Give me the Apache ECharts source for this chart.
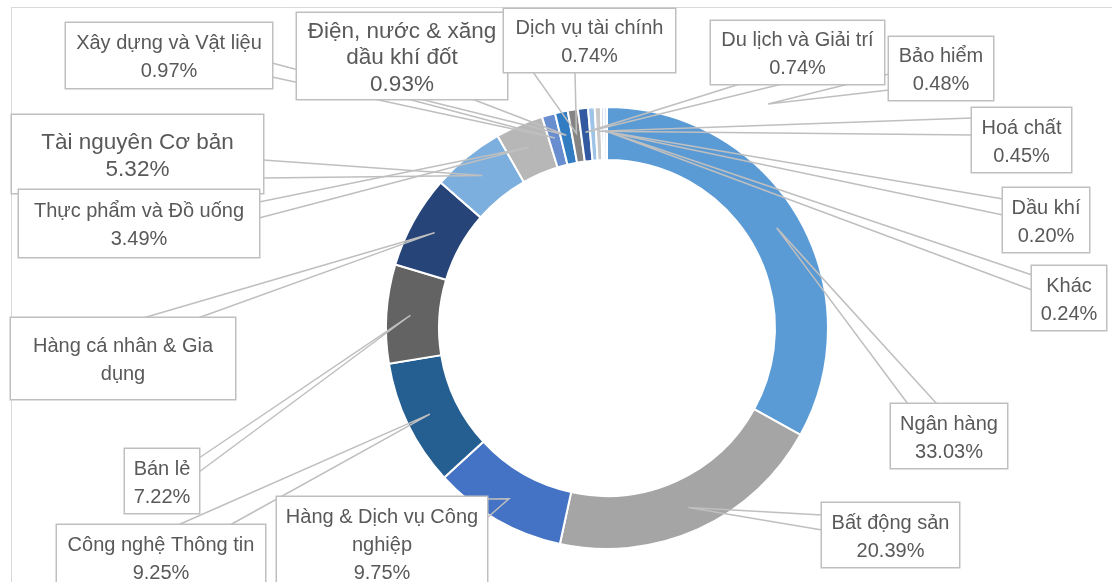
<!DOCTYPE html>
<html>
<head>
<meta charset="utf-8">
<script src="https://cdn.jsdelivr.net/npm/echarts@6/dist/echarts.min.js"></script>
<style>
html,body{margin:0;padding:0;background:#fff;}
#chart{width:1112px;height:582px;}
</style>
</head>
<body>
<div id="chart"></div>
<script>
// ---- data ----
const categories = ['Ngân hàng','Bất động sản','Hàng & Dịch vụ Công nghiệp','Công nghệ Thông tin','Bán lẻ','Hàng cá nhân & Gia dụng','Tài nguyên Cơ bản','Thực phẩm và Đồ uống','Xây dựng và Vật liệu','Điện, nước & xăng dầu khí đốt','Dịch vụ tài chính','Du lịch và Giải trí','Bảo hiểm','Hoá chất','Dầu khí','Khác'];
const labelTexts = ['Ngân hàng','Bất động sản','Hàng & Dịch vụ Công\nnghiệp','Công nghệ Thông tin','Bán lẻ','Hàng cá nhân & Gia\ndụng','Tài nguyên Cơ bản','Thực phẩm và Đồ uống','Xây dựng và Vật liệu','Điện, nước & xăng\ndầu khí đốt','Dịch vụ tài chính','Du lịch và Giải trí','Bảo hiểm','Hoá chất','Dầu khí','Khác'];
const values = [33.03,20.39,9.75,9.25,7.22,6.80,5.32,3.49,0.97,0.93,0.74,0.74,0.48,0.45,0.20,0.24];
const showPercent = [true,true,true,true,true,false,true,true,true,true,true,true,true,true,true,true];

// ---- styles / layout ----
const colors = ['#5B9BD5','#A5A5A5','#4472C4','#255E91','#636363','#264478','#7CAFDD','#B7B7B7','#698ED0','#327DC2','#848484','#335AA1','#9DC3E6','#C9C9C9','#B4C7E7','#DEEBF7'];
// callout boxes [left, top, right, bottom]
const labelBoxes = [
  [891,404,1007,468],[822,503,959,567],[277,497,487,589],[57,525,265,589],
  [125,449,199,513],[11,318,235,399],[12,115,263,193],[19,190,259,257],
  [66,23,272,88],[297,13,507,99],[504,9,675,72],[711,21,884,84],
  [889,37,993,100],[972,108,1071,172],[1003,188,1089,252],[1032,266,1106,330]
];
// wedge base points on the callout box [x1,y1,x2,y2]
const wedgeBases = [
  [908,404,937,404],[822,515,822,530],[487,499,487,518],[178,525,230,525],
  [199,458,199,472],[143,318,198,318],[263,160,263,178],[259,202,259,218],
  [272,63,272,77],[420,99,472,99],[533,72,575,72],[740,84,782,84],
  [889,74,889,90],[972,118,972,135],[1003,199,1003,215],[1032,275,1032,290]
];
const tipOverrides = {12: [768,104]};
const CENTER = [607, 328], R_OUT = 221, R_IN = 168, R_TIP = 197;
const fontSizes = {6: 22.5, 9: 22.5};
const lineHeights = {6: 27, 9: 26.5};

const total = values.reduce((a, b) => a + b, 0);
const cum = [];
values.reduce((a, v, i) => { cum[i] = a + v / 2; return a + v; }, 0);

const sliceData = categories.map((name, i) => ({
  name: name,
  value: values[i],
  itemStyle: {color: colors[i]}
}));

const labelData = categories.map((name, i) => {
  const b = labelBoxes[i];
  const nLines = labelTexts[i].split('\n').length + (showPercent[i] ? 1 : 0);
  const lh = lineHeights[i] || 28;
  const h = b[3] - b[1];
  const textH = nLines * lh;
  const pt = (h - textH) / 2 + 2;
  const pb = Math.max(0, h - textH - pt);
  return {
    name: name,
    value: values[i],
    label: {
      width: b[2] - b[0],
      padding: [pt, 0, pb, 0],
      fontSize: fontSizes[i] || 20,
      lineHeight: lh
    }
  };
});

const chart = echarts.init(document.getElementById('chart'), null, {renderer: 'canvas'});
chart.setOption({
  animation: false,
  backgroundColor: '#ffffff',
  graphic: [
    {type: 'line', z: -10, shape: {x1: 11, y1: 7.5, x2: 1112, y2: 7.5}, style: {stroke: '#D9D9D9', lineWidth: 1}},
    {type: 'line', z: -10, shape: {x1: 11.5, y1: 7, x2: 11.5, y2: 582}, style: {stroke: '#D9D9D9', lineWidth: 1}}
  ],
  series: [{
    type: 'pie',
    z: 2,
    center: CENTER,
    radius: [R_IN, R_OUT],
    startAngle: 90,
    clockwise: true,
    silent: true,
    itemStyle: {borderColor: '#ffffff', borderWidth: 2},
    emphasis: {disabled: true},
    label: {show: false},
    labelLine: {show: false},
    data: sliceData
  }, {
    type: 'pie',
    z: 5,
    center: CENTER,
    radius: [R_IN, R_OUT],
    startAngle: 90,
    clockwise: true,
    silent: true,
    avoidLabelOverlap: false,
    minShowLabelAngle: 0,
    itemStyle: {color: 'rgba(0,0,0,0)', borderWidth: 0},
    emphasis: {disabled: true},
    data: labelData,
    label: {
      show: true,
      position: 'outside',
      color: '#595959',
      fontFamily: '"Liberation Sans", Arial, sans-serif',
      backgroundColor: '#ffffff',
      borderColor: '#BFBFBF',
      borderWidth: 1.5,
      align: 'center',
      formatter: function (p) {
        const i = p.dataIndex;
        return labelTexts[i] + (showPercent[i] ? '\n' + values[i].toFixed(2) + '%' : '');
      }
    },
    labelLine: {
      show: true,
      smooth: false,
      length: 10,
      length2: 10,
      lineStyle: {color: '#BFBFBF', width: 1.5}
    },
    labelLayout: function (params) {
      const i = params.dataIndex;
      const b = labelBoxes[i];
      let tip = tipOverrides[i];
      if (!tip) {
        let dx, dy;
        const p0 = params.labelLinePoints && params.labelLinePoints[0];
        if (p0) {
          dx = p0[0] - CENTER[0]; dy = p0[1] - CENTER[1];
        } else {
          const ang = cum[i] / total * 2 * Math.PI;
          dx = Math.sin(ang); dy = -Math.cos(ang);
        }
        const len = Math.sqrt(dx * dx + dy * dy) || 1;
        tip = [CENTER[0] + dx / len * R_TIP, CENTER[1] + dy / len * R_TIP];
      }
      const wb = wedgeBases[i];
      return {
        x: (b[0] + b[2]) / 2,
        y: b[1],
        align: 'center',
        verticalAlign: 'top',
        labelLinePoints: [[wb[0], wb[1]], tip, [wb[2], wb[3]]]
      };
    }
  }]
});
</script>
</body>
</html>
